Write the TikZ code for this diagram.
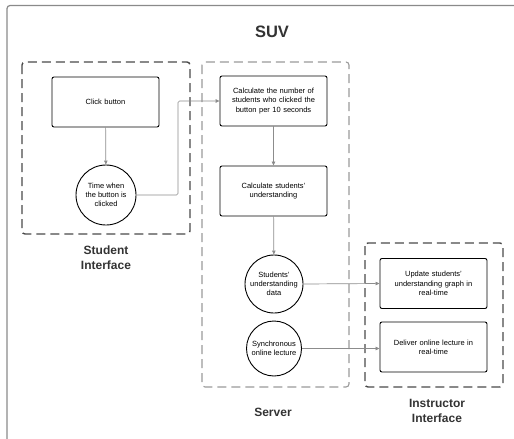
\documentclass[tikz,border=0pt]{standalone}
\usepackage{fontspec}
\setmainfont{Liberation Sans}
\usetikzlibrary{arrows.meta}
\definecolor{framegray}{HTML}{8A8A8A}
\definecolor{darkdash}{HTML}{4A4A4A}
\definecolor{lightdash}{HTML}{9A9A9A}
\definecolor{linkgray}{HTML}{8C8C8C}
\definecolor{textgray}{HTML}{333333}
\tikzset{
  stepbox/.style={draw=black, line width=0.9pt, rounded corners=2pt, minimum width=107pt, minimum height=50pt, align=center, font=\fontsize{7.5}{9.3}\selectfont, text width=100pt, inner sep=2pt},
  datacircle/.style={draw=black, line width=0.9pt, circle, minimum size=60pt, align=center, font=\fontsize{7.5}{9.3}\selectfont, inner sep=0pt},
  groupdark/.style={draw=darkdash, line width=1.4pt, dash pattern=on 9pt off 5pt, rounded corners=3pt},
  grouplight/.style={draw=lightdash, line width=1.1pt, dash pattern=on 9pt off 5pt, rounded corners=3pt},
  link/.style={draw=linkgray, line width=0.7pt, -{Triangle[length=4pt,width=3.5pt]}},
  grouplabel/.style={font=\bfseries\fontsize{12}{15}\selectfont, text=textgray, align=center},
}
\begin{document}
\begin{tikzpicture}[x=1pt,y=-1pt]
\useasboundingbox (0,0) rectangle (514,439);
% outer frame, running off the right and bottom edges
\draw[framegray, line width=1.2pt, rounded corners=3pt] (520,5.5) -- (7,5.5) -- (7,445);
\node[font=\bfseries\fontsize{16.5}{20}\selectfont, text=textgray] (title) at (272,32) {SUV};

% group frames
\draw[groupdark] (22,62) rectangle (190,234);
\draw[grouplight] (202,62) rectangle (349,387);
\draw[groupdark] (365,243) rectangle (503,387);

% student side
\node[stepbox] (click) at (105.5,102) {Click button};
\node[datacircle] (time) at (106,195) {Time when\\the button is\\clicked};

% server side
\node[stepbox] (count) at (273.5,101) {Calculate the number of\\students who clicked the\\button per 10 seconds};
\node[stepbox] (calc) at (273.5,191) {Calculate students'\\understanding};
\node[datacircle, minimum size=58pt] (udata) at (274,284) {Students'\\understanding\\data};
\node[datacircle, minimum size=55pt] (sync) at (274,348.5) {Synchronous\\online lecture};

% instructor side
\node[stepbox] (graph) at (433.5,283.5) {Update students'\\understanding graph in\\real-time};
\node[stepbox] (deliver) at (433.5,347) {Deliver online lecture in\\real-time};

% group captions
\node[grouplabel] (lstudent) at (106,258) {Student\\Interface};
\node[grouplabel] (lserver) at (273,412) {Server};
\node[grouplabel] (linstr) at (437,411) {Instructor\\Interface};

% connectors
\draw[link] (click) -- (time);
\coordinate (bend1) at (178,195);
\coordinate (bend2) at (178,101);
\draw[link, rounded corners=1.5pt] (time.east) -- (bend1) -- (bend2) -- (count.west);
\draw[link] (count) -- (calc);
\draw[link] (calc) -- (udata);
\draw[link] (udata.east) -- (graph.west);
\draw[link] (sync.east) -- (sync.east -| deliver.west);
\end{tikzpicture}
\end{document}
